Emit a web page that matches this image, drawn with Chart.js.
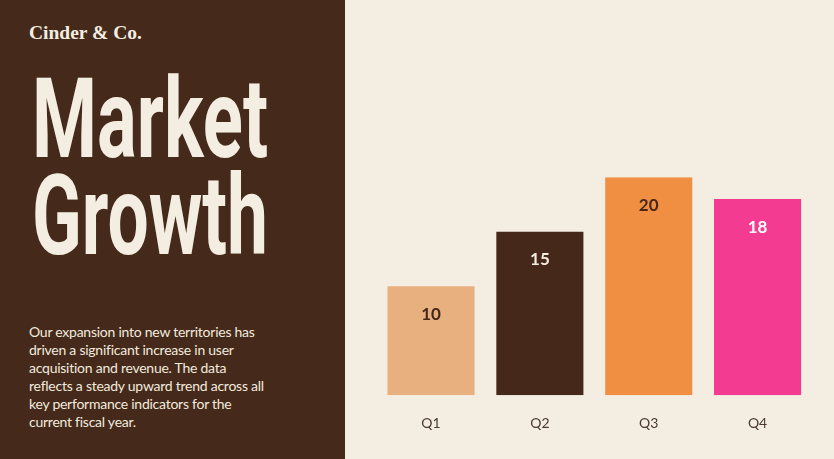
<!DOCTYPE html>
<html>
<head>
<meta charset="utf-8">
<script src="https://cdn.jsdelivr.net/npm/chart.js@4/dist/chart.umd.min.js"></script>
<style>
  html, body { margin:0; padding:0; width:834px; height:459px; overflow:hidden; background:#f3eee1; }
  #left { position:absolute; left:0; top:0; width:345px; height:459px; background:#45291a; }
  #brand { position:absolute; left:29px; top:22px; font-family:"Liberation Serif", "DejaVu Serif", serif; font-weight:bold; font-size:19.5px; color:#f3eee1; white-space:nowrap; }
  .title { position:absolute; left:32px; font-family:Roboto, sans-serif; font-weight:700; font-size:111px; line-height:1; color:#f3eee1; transform-origin:0 0; white-space:nowrap; }
  #t1 { top:64px; }
  #t2 { top:161px; }
  #body { position:absolute; left:29px; top:323px; font-family:Lato, sans-serif; font-size:14px; line-height:18.1px; color:#f1ebde; white-space:nowrap; letter-spacing:-0.25px; }
  #wrap { position:absolute; left:0; top:0; width:834px; height:459px; }
</style>
</head>
<body>
<div id="left"></div>
<div id="brand">Cinder &amp; Co.</div>
<div class="title" id="t1">Market</div>
<div class="title" id="t2">Growth</div>
<div id="body">Our expansion into new territories has<br>driven a significant increase in user<br>acquisition and revenue. The data<br>reflects a steady upward trend across all<br>key performance indicators for the<br>current fiscal year.</div>
<div id="wrap"><canvas id="c"></canvas></div>
<script>
const categories = ["Q1", "Q2", "Q3", "Q4"];
const values = [10, 15, 20, 18];
const barColors = ["#e8b07f", "#45281a", "#f08f42", "#f23b91"];
const labelColors = ["#45281a", "#f3eee1", "#45281a", "#ffffff"];

// fit condensed title width
["t1","t2"].forEach(id => {
  const el = document.getElementById(id);
  const w = el.getBoundingClientRect().width;
  el.style.transform = "scaleX(" + (236 / w) + ")";
});

const valueLabels = {
  id: "valueLabels",
  afterDatasetsDraw(chart) {
    const ctx = chart.ctx;
    const meta = chart.getDatasetMeta(0);
    ctx.save();
    ctx.font = "bold 17px Lato, sans-serif";
    ctx.textAlign = "center";
    ctx.textBaseline = "middle";
    meta.data.forEach((bar, i) => {
      ctx.fillStyle = labelColors[i];
      ctx.fillText(String(values[i]), bar.x, bar.y + 28);
    });
    ctx.restore();
  }
};

new Chart(document.getElementById("c"), {
  type: "bar",
  data: {
    labels: categories,
    datasets: [{
      data: values,
      backgroundColor: barColors,
      borderWidth: 0,
      barPercentage: 0.8,
      categoryPercentage: 1.0
    }]
  },
  options: {
    responsive: true,
    maintainAspectRatio: false,
    animation: false,
    layout: { padding: { left: 376.6, right: 22, top: 177.3, bottom: 7 } },
    plugins: { legend: { display: false }, tooltip: { enabled: false } },
    scales: {
      y: { display: false, min: 0, max: 20 },
      x: {
        grid: { display: false, drawTicks: false },
        border: { display: false },
        ticks: { color: "#4a3a30", font: { family: "Lato, sans-serif", size: 14 }, padding: 20 }
      }
    }
  },
  plugins: [valueLabels]
});
</script>
</body>
</html>
